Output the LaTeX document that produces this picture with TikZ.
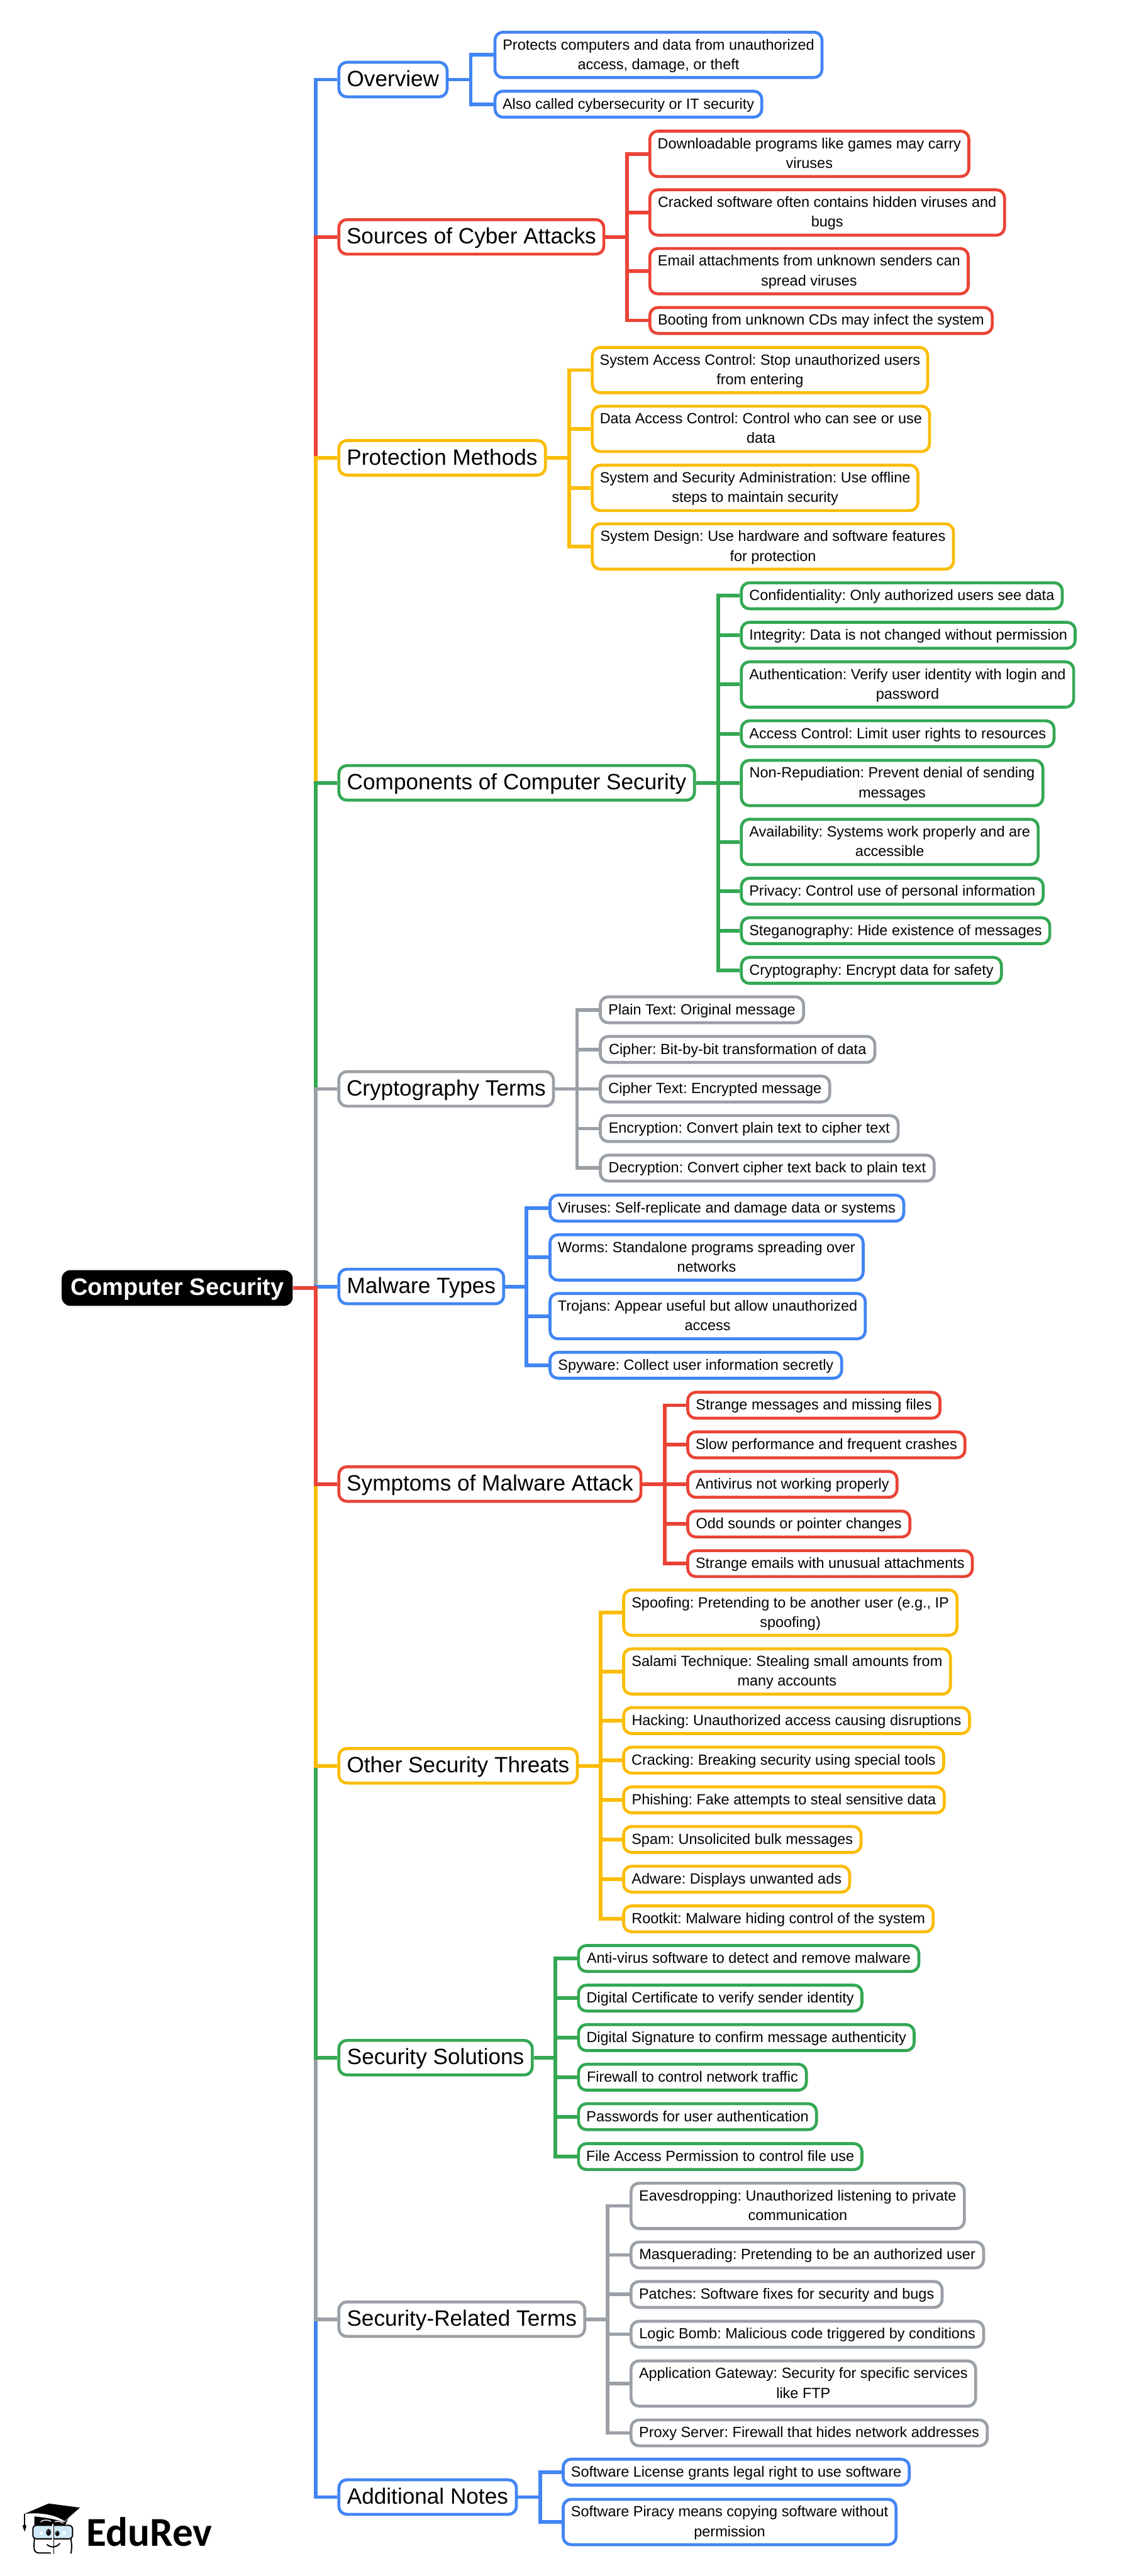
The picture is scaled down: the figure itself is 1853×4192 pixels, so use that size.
\documentclass[tikz,border=0pt]{standalone}
\usepackage{fontspec}
\setmainfont{Liberation Sans}
\newfontfamily\logofont{Carlito}
\usetikzlibrary{backgrounds}
\frenchspacing
\definecolor{cblue}{HTML}{4285F4}
\definecolor{cred}{HTML}{EA4335}
\definecolor{cyel}{HTML}{FBBC04}
\definecolor{cgrn}{HTML}{34A853}
\definecolor{cgry}{HTML}{9AA0A6}
\definecolor{lens}{HTML}{CFE8F7}
\tikzset{
  boxbase/.style={draw,fill=white,line width=2.4pt,rounded corners=6.5pt,inner sep=0pt,align=center,text=black},
  leafone/.style={boxbase,minimum height=21.1pt,font=\fontsize{12}{16}\selectfont},
  leaftwo/.style={boxbase,minimum height=36.9pt,font=\fontsize{12}{16}\selectfont},
  branchbox/.style={boxbase,minimum height=28.1pt,font=\fontsize{18}{22}\selectfont},
  rootbox/.style={fill=black,text=white,rounded corners=7pt,inner sep=0pt,minimum width=188pt,minimum height=29pt,font=\fontsize{19.4}{24}\selectfont\bfseries},
  conn/.style={line width=3pt,line join=miter},
  logoline/.style={line width=1pt,draw=black,line join=round,line cap=round},
}
\newcommand\leafstrut{\rule[-4.2pt]{0pt}{16pt}}
\newcommand\branchstrut{\rule[-5.3pt]{0pt}{22pt}}
\newcommand\rootstrut{\rule[-6pt]{0pt}{24pt}}
% colour, height style, name, left, top, right, text
\newcommand\leafbox[7]{\node[#2,draw=#1,anchor=north west,minimum width={(#6-#4-2.8)*0.5pt}] (#3) at (#4-1,#5) {\leafstrut#7\leafstrut};}
% colour, name, centre y, right, text
\newcommand\branchnode[5]{\node[branchbox,draw=#1,anchor=west,minimum width={(#4-550-2.8)*0.5pt}] (#2) at (549,#3+0.5) {\branchstrut#5};}
\begin{document}
\begin{tikzpicture}[x=0.5pt,y=-0.5pt]
\useasboundingbox (0,0) rectangle (1853,4192);
\node[rootbox,anchor=west] (root) at (100,2096) {\rootstrut Computer Security};
\coordinate (tr) at (514,2096);
% branches
\branchnode{cblue}{over}{129}{729}{Overview}
\branchnode{cred}{sour}{385}{984}{Sources of Cyber Attacks}
\branchnode{cyel}{prot}{744.5}{889}{Protection Methods}
\branchnode{cgrn}{comp}{1273.5}{1131.6}{Components of Computer Security}
\branchnode{cgry}{cryp}{1771.5}{902}{Cryptography Terms}
\branchnode{cblue}{malw}{2093}{821}{Malware Types}
\branchnode{cred}{symp}{2414.5}{1044.4}{Symptoms of Malware Attack}
\branchnode{cyel}{othr}{2873}{941}{Other Security Threats}
\branchnode{cgrn}{solu}{3348}{867.6}{Security Solutions}
\branchnode{cgry}{rela}{3773.5}{953}{Security-Related Terms}
\branchnode{cblue}{addn}{4063}{841.7}{Additional Notes}
% leaves
\leafbox{cblue}{leaftwo}{a1}{804}{50}{1339}{Protects computers and data from unauthorized\\access, damage, or theft}
\leafbox{cblue}{leafone}{a2}{804}{146}{1241}{Also called cybersecurity or IT security}
\leafbox{cred}{leaftwo}{b1}{1056}{211}{1578}{Downloadable programs like games may carry\\viruses}
\leafbox{cred}{leaftwo}{b2}{1056}{306.5}{1636}{Cracked software often contains hidden viruses and\\bugs}
\leafbox{cred}{leaftwo}{b3}{1056}{402}{1577}{Email attachments from unknown senders can\\spread viruses}
\leafbox{cred}{leafone}{b4}{1056}{498}{1616}{Booting from unknown CDs may infect the system}
\leafbox{cyel}{leaftwo}{c1}{962.5}{563}{1511}{System Access Control: Stop unauthorized users\\from entering}
\leafbox{cyel}{leaftwo}{c2}{962.5}{658.6}{1514}{Data Access Control: Control who can see or use\\data}
\leafbox{cyel}{leaftwo}{c3}{962.5}{754.7}{1495}{System and Security Administration: Use offline\\steps to maintain security}
\leafbox{cyel}{leaftwo}{c4}{962.5}{850}{1553}{System Design: Use hardware and software features\\for protection}
\leafbox{cgrn}{leafone}{d1}{1205}{946}{1730}{Confidentiality: Only authorized users see data}
\leafbox{cgrn}{leafone}{d2}{1205}{1010.3}{1751}{Integrity: Data is not changed without permission}
\leafbox{cgrn}{leaftwo}{d3}{1205}{1074.6}{1748.5}{Authentication: Verify user identity with login and\\password}
\leafbox{cgrn}{leafone}{d4}{1205}{1170.6}{1716.6}{Access Control: Limit user rights to resources}
\leafbox{cgrn}{leaftwo}{d5}{1205}{1234.9}{1698.4}{Non-Repudiation: Prevent denial of sending\\messages}
\leafbox{cgrn}{leaftwo}{d6}{1205}{1330.8}{1690.7}{Availability: Systems work properly and are\\accessible}
\leafbox{cgrn}{leafone}{d7}{1205}{1426.8}{1699}{Privacy: Control use of personal information}
\leafbox{cgrn}{leafone}{d8}{1205}{1491}{1709.6}{Steganography: Hide existence of messages}
\leafbox{cgrn}{leafone}{d9}{1205}{1555.6}{1631}{Cryptography: Encrypt data for safety}
\leafbox{cgry}{leafone}{e1}{975.4}{1619.8}{1309}{Plain Text: Original message}
\leafbox{cgry}{leafone}{e2}{975.4}{1684.2}{1425}{Cipher: Bit-by-bit transformation of data}
\leafbox{cgry}{leafone}{e3}{975.4}{1748.6}{1351.6}{Cipher Text: Encrypted message}
\leafbox{cgry}{leafone}{e4}{975.4}{1813}{1463}{Encryption: Convert plain text to cipher text}
\leafbox{cgry}{leafone}{e5}{975.4}{1877.4}{1521.6}{Decryption: Convert cipher text back to plain text}
\leafbox{cblue}{leafone}{f1}{893.5}{1942.5}{1472}{Viruses: Self-replicate and damage data or systems}
\leafbox{cblue}{leaftwo}{f2}{893.5}{2006.9}{1406}{Worms: Standalone programs spreading over\\networks}
\leafbox{cblue}{leaftwo}{f3}{893.5}{2102.5}{1409.4}{Trojans: Appear useful but allow unauthorized\\access}
\leafbox{cblue}{leafone}{f4}{893.5}{2198.2}{1371}{Spyware: Collect user information secretly}
\leafbox{cred}{leafone}{g1}{1117.8}{2263.3}{1531}{Strange messages and missing files}
\leafbox{cred}{leafone}{g2}{1117.8}{2327.7}{1571.6}{Slow performance and frequent crashes}
\leafbox{cred}{leafone}{g3}{1117.8}{2392}{1461}{Antivirus not working properly}
\leafbox{cred}{leafone}{g4}{1117.8}{2456.5}{1482}{Odd sounds or pointer changes}
\leafbox{cred}{leafone}{g5}{1117.8}{2521}{1583.7}{Strange emails with unusual attachments}
\leafbox{cyel}{leaftwo}{h1}{1013.4}{2585}{1558.7}{Spoofing: Pretending to be another user (e.g., IP\\spoofing)}
\leafbox{cyel}{leaftwo}{h2}{1013.4}{2680.7}{1548}{Salami Technique: Stealing small amounts from\\many accounts}
\leafbox{cyel}{leafone}{h3}{1013.4}{2776.4}{1579}{Hacking: Unauthorized access causing disruptions}
\leafbox{cyel}{leafone}{h4}{1013.4}{2840.8}{1537}{Cracking: Breaking security using special tools}
\leafbox{cyel}{leafone}{h5}{1013.4}{2905.5}{1538}{Phishing: Fake attempts to steal sensitive data}
\leafbox{cyel}{leafone}{h6}{1013.4}{2969.8}{1402.5}{Spam: Unsolicited bulk messages}
\leafbox{cyel}{leafone}{h7}{1013.4}{3034.5}{1384}{Adware: Displays unwanted ads}
\leafbox{cyel}{leafone}{h8}{1013.4}{3099}{1520}{Rootkit: Malware hiding control of the system}
\leafbox{cgrn}{leafone}{i1}{940}{3163.5}{1496.6}{Anti-virus software to detect and remove malware}
\leafbox{cgrn}{leafone}{i2}{940}{3228}{1404}{Digital Certificate to verify sender identity}
\leafbox{cgrn}{leafone}{i3}{940}{3292.3}{1489}{Digital Signature to confirm message authenticity}
\leafbox{cgrn}{leafone}{i4}{940}{3356.8}{1313.6}{Firewall to control network traffic}
\leafbox{cgrn}{leafone}{i5}{940}{3421}{1330}{Passwords for user authentication}
\leafbox{cgrn}{leafone}{i6}{940}{3486}{1404}{File Access Permission to control file use}
\leafbox{cgry}{leaftwo}{j1}{1025.5}{3550.3}{1570.7}{Eavesdropping: Unauthorized listening to private\\communication}
\leafbox{cgry}{leafone}{j2}{1025.5}{3646}{1602}{Masquerading: Pretending to be an authorized user}
\leafbox{cgry}{leafone}{j3}{1025.5}{3710.3}{1534.5}{Patches: Software fixes for security and bugs}
\leafbox{cgry}{leafone}{j4}{1025.5}{3775}{1602}{Logic Bomb: Malicious code triggered by conditions}
\leafbox{cgry}{leaftwo}{j5}{1025.5}{3839.5}{1589}{Application Gateway: Security for specific services\\like FTP}
\leafbox{cgry}{leafone}{j6}{1025.5}{3935.6}{1608}{Proxy Server: Firewall that hides network addresses}
\leafbox{cblue}{leafone}{k1}{915}{3999.5}{1481}{Software License grants legal right to use software}
\leafbox{cblue}{leaftwo}{k2}{915}{4064.8}{1459.5}{Software Piracy means copying software without\\permission}
% stems
\coordinate (sa) at (766,129.5);
\coordinate (sb) at (1020,385.5);
\coordinate (sc) at (926,745);
\coordinate (sd) at (1168.7,1274);
\coordinate (se) at (939,1772);
\coordinate (sf) at (857,2093.5);
\coordinate (sg) at (1081.5,2415);
\coordinate (sh) at (977,2873.5);
\coordinate (si) at (904,3348.5);
\coordinate (sj) at (989,3774);
\coordinate (sk) at (879,4063.5);
\begin{scope}[on background layer]
\draw[conn,cblue] (over.east) -- (sa); \foreach \n in {a1,a2} \draw[conn,cblue] (sa) |- (\n.west);
\draw[conn,cred] (sour.east) -- (sb); \foreach \n in {b1,b2,b3,b4} \draw[conn,cred] (sb) |- (\n.west);
\draw[conn,cyel] (prot.east) -- (sc); \foreach \n in {c1,c2,c3,c4} \draw[conn,cyel] (sc) |- (\n.west);
\draw[conn,cgrn] (comp.east) -- (sd); \foreach \n in {d1,d2,d3,d4,d5,d6,d7,d8,d9} \draw[conn,cgrn] (sd) |- (\n.west);
\draw[conn,cgry] (cryp.east) -- (se); \foreach \n in {e1,e2,e3,e4,e5} \draw[conn,cgry] (se) |- (\n.west);
\draw[conn,cblue] (malw.east) -- (sf); \foreach \n in {f1,f2,f3,f4} \draw[conn,cblue] (sf) |- (\n.west);
\draw[conn,cred] (symp.east) -- (sg); \foreach \n in {g1,g2,g3,g4,g5} \draw[conn,cred] (sg) |- (\n.west);
\draw[conn,cyel] (othr.east) -- (sh); \foreach \n in {h1,h2,h3,h4,h5,h6,h7,h8} \draw[conn,cyel] (sh) |- (\n.west);
\draw[conn,cgrn] (solu.east) -- (si); \foreach \n in {i1,i2,i3,i4,i5,i6} \draw[conn,cgrn] (si) |- (\n.west);
\draw[conn,cgry] (rela.east) -- (sj); \foreach \n in {j1,j2,j3,j4,j5,j6} \draw[conn,cgry] (sj) |- (\n.west);
\draw[conn,cblue] (addn.east) -- (sk); \foreach \n in {k1,k2} \draw[conn,cblue] (sk) |- (\n.west);
% trunk: outer branches first, those nearest the root on top
\draw[conn,cblue] (tr) |- (over.west);
\draw[conn,cred] (tr) |- (sour.west);
\draw[conn,cyel] (tr) |- (prot.west);
\draw[conn,cgrn] (tr) |- (comp.west);
\draw[conn,cgry] (tr) |- (cryp.west);
\draw[conn,cblue] (tr) |- (malw.west);
\draw[conn,cblue] (tr) |- (addn.west);
\draw[conn,cgry] (tr) |- (rela.west);
\draw[conn,cgrn] (tr) |- (solu.west);
\draw[conn,cyel] (tr) |- (othr.west);
\draw[conn,cred] (tr) |- (symp.west);
\draw[conn,cred] (root.east) -- ([xshift=1.5pt]tr);
\end{scope}
% logo
\fill (40,4090.7) -- (79.3,4074) -- (130,4080.7) -- (105,4102.7) .. controls (90,4092) and (65,4088) .. cycle;
\fill (56,4095) .. controls (75,4097) and (92,4100) .. (105,4104.5) -- (111,4098) -- (106,4109) -- (56,4109) -- cycle;
\draw[white,line width=0.7pt] (66,4104) .. controls (69,4100) and (78,4100) .. (83,4103);
\draw[white,line width=0.7pt] (89,4104) .. controls (93,4102) and (99,4103) .. (103,4106);
\draw[line width=0.7pt] (40,4090.7) -- (40,4110);
\fill (37.3,4109) -- (42.7,4109) -- (42.7,4112) -- (40,4120) -- (37.3,4112) -- cycle;
\draw[logoline,fill=lens,rounded corners=3pt] (53.5,4109.5) rectangle (118,4131.5);
\draw[logoline,rounded corners=3pt] (56,4131.5) -- (55,4145) -- (57,4154.5) -- (82,4154.5);
\draw[logoline,rounded corners=3pt] (115.5,4131.5) -- (117,4145) -- (115.5,4155);
\draw[white,line width=1.6pt] (86.7,4107) -- (86.7,4156);
\draw[line width=0.9pt] (87.5,4107) -- (87.5,4156);
\fill (79,4121) ellipse [x radius=2pt,y radius=2.8pt];
\fill (93.3,4122.7) ellipse [x radius=1.7pt,y radius=2.2pt];
\fill[white] (78,4118.5) circle [radius=0.5pt];
\fill[white] (92.5,4120.5) circle [radius=0.4pt];
\fill[white] (66,4120) rectangle (70,4124);
\fill[white] (102,4119.5) rectangle (106,4124);
\draw[logoline] (76.7,4141) .. controls (82,4146) and (92,4146) .. (97.3,4139);
\node[anchor=base west,inner sep=0pt,font=\logofont\fontsize{33.4}{40}\selectfont\bfseries] (logotext) at (140.5,4143) {EduRev};
\end{tikzpicture}
\end{document}
